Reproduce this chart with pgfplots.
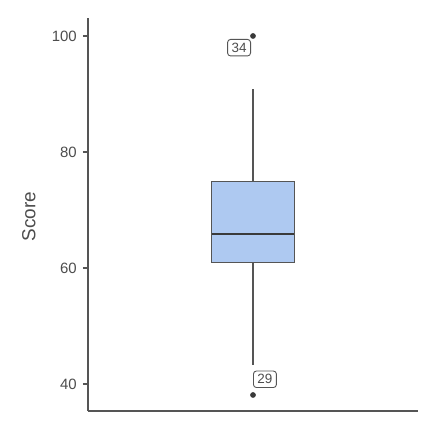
\documentclass[border=0pt]{standalone}
\usepackage{pgfplots}
\pgfplotsset{compat=1.18}
\usepackage{fontspec}
\setmainfont{Liberation Sans}
\definecolor{boxfill}{HTML}{AEC9F1}
\definecolor{boxline}{HTML}{555555}
\definecolor{medline}{HTML}{3A3A3A}
\definecolor{txt}{HTML}{4D4D4D}
\begin{document}
\begin{tikzpicture}
\path[use as bounding box, fill=white] (0,0) rectangle (437bp,437bp);
\begin{axis}[
  at={(88bp,26bp)}, anchor=south west,
  scale only axis, width=330bp, height=393bp,
  xmin=0, xmax=2, ymin=35.34, ymax=103.1,
  axis x line*=bottom, axis y line*=left,
  axis line style={-, draw=boxline, line width=1.2bp},
  xtick=\empty,
  ytick={40,60,80,100},
  tick style={draw=boxline, line width=1.1bp},
  tick align=outside, major tick length=5bp,
  yticklabel style={font=\fontsize{15}{16}\selectfont, text=txt, inner sep=0pt, xshift=-6bp},
  /pgf/number format/assume math mode=true,
  ylabel={Score},
  ylabel style={font=\fontsize{19}{20}\selectfont, text=txt,
    at={(axis description cs:-0.179,0.495)}, anchor=center},
  clip=false,
]
% whiskers
\addplot[draw=boxline, line width=1.3bp] coordinates {(1,74.85) (1,90.9)};
\addplot[draw=boxline, line width=1.3bp] coordinates {(1,43.3) (1,61.0)};
% box
\addplot[draw=boxline, line width=1.2bp, fill=boxfill]
  coordinates {(0.75,61.0) (1.25,61.0) (1.25,74.85) (0.75,74.85)} -- cycle;
% median
\addplot[draw=medline, line width=2.8bp] coordinates {(0.75,65.85) (1.25,65.85)};
% outliers
\addplot[only marks, mark=*, mark size=2.6bp, mark options={fill=medline, draw=medline}]
  coordinates {(1,100) (1,38.1)};
\node[draw=boxline, line width=0.9bp, rounded corners=3bp, inner xsep=4bp, inner ysep=3.5bp, fill=white,
  font=\fontsize{13.5}{14}\selectfont, text=txt, anchor=north east, xshift=-2bp, yshift=-3bp]
  at (axis cs:1,100) {34};
\node[draw=boxline, line width=0.9bp, rounded corners=3bp, inner xsep=4bp, inner ysep=3.5bp, fill=white,
  font=\fontsize{13.5}{14}\selectfont, text=txt, anchor=south west, xshift=0bp, yshift=7bp]
  at (axis cs:1,38.1) {29};
\end{axis}
\end{tikzpicture}
\end{document}
